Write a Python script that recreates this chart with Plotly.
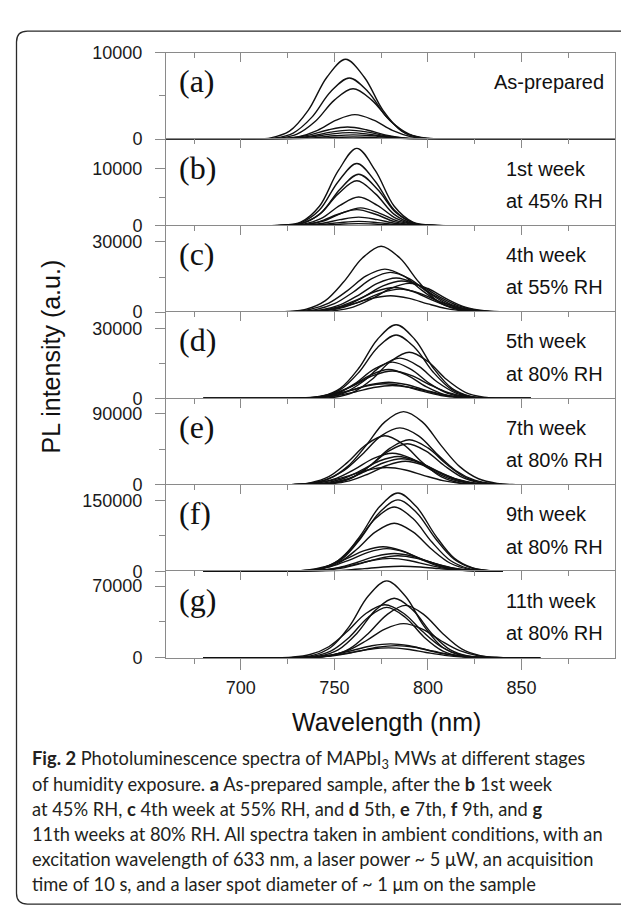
import plotly.graph_objects as go

# ---------------- data (wavelength in nm, PL intensity in a.u.) ----------------
A_WL = [
    [660, 696, 706, 716, 726, 736, 746, 756, 766, 776, 786, 796, 806, 816, 900],
    [660, 698, 708, 718, 728, 738, 748, 758, 768, 778, 788, 798, 808, 818, 900],
    [660, 700, 710, 720, 730, 740, 750, 760, 770, 780, 790, 800, 810, 820, 900],
    [660, 701, 711, 721, 731, 741, 751, 761, 771, 781, 791, 801, 811, 821, 900],
    [660, 697, 707, 717, 727, 737, 747, 757, 767, 777, 787, 797, 807, 817, 900],
    [660, 698, 708, 718, 728, 738, 748, 758, 768, 778, 788, 798, 808, 818, 900],
    [660, 698, 708, 718, 728, 738, 748, 758, 768, 778, 788, 798, 808, 818, 900],
    [660, 700, 710, 720, 730, 740, 750, 760, 770, 780, 790, 800, 810, 820, 900],
    [660, 700, 710, 720, 730, 740, 750, 760, 770, 780, 790, 800, 810, 820, 900],
]
A_PL = [
    [0, 0, 18, 157, 924, 3326, 7161, 9240, 7161, 3326, 924, 157, 18, 0, 0],
    [0, 0, 14, 120, 708, 2549, 5487, 7080, 5487, 2549, 708, 120, 14, 0, 0],
    [0, 0, 12, 99, 583, 2099, 4518, 5830, 4518, 2099, 583, 99, 12, 0, 0],
    [0, 0, 6, 48, 284, 1022, 2201, 2840, 2201, 1022, 284, 48, 6, 0, 0],
    [0, 0, 3, 24, 140, 504, 1085, 1400, 1085, 504, 140, 24, 3, 0, 0],
    [0, 0, 2, 18, 105, 378, 814, 1050, 814, 378, 105, 18, 2, 0, 0],
    [0, 0, 2, 13, 76, 274, 589, 760, 589, 274, 76, 13, 2, 0, 0],
    [0, 0, 1, 9, 50, 180, 388, 500, 388, 180, 50, 9, 1, 0, 0],
    [0, 0, 1, 4, 25, 90, 194, 250, 194, 90, 25, 4, 1, 0, 0],
]

B_WL = [
    [660, 702, 712, 722, 732, 742, 752, 762, 772, 782, 792, 802, 812, 822, 850],
    [660, 702, 712, 722, 732, 742, 752, 762, 772, 782, 792, 802, 812, 822, 850],
    [660, 703, 713, 723, 733, 743, 753, 763, 773, 783, 793, 803, 813, 823, 850],
    [660, 702, 712, 722, 732, 742, 752, 762, 772, 782, 792, 802, 812, 822, 850],
    [660, 703, 713, 723, 733, 743, 753, 763, 773, 783, 793, 803, 813, 823, 850],
    [660, 704, 714, 724, 734, 744, 754, 764, 774, 784, 794, 804, 814, 824, 850],
    [660, 702, 712, 722, 732, 742, 752, 762, 772, 782, 792, 802, 812, 822, 850],
    [660, 703, 713, 723, 733, 743, 753, 763, 773, 783, 793, 803, 813, 823, 850],
    [660, 703, 713, 723, 733, 743, 753, 763, 773, 783, 793, 803, 813, 823, 850],
    [660, 703, 713, 723, 733, 743, 753, 763, 773, 783, 793, 803, 813, 823, 850],
]
B_PL = [
    [0, 0, 0, 54, 594, 3375, 9545, 13500, 9545, 3375, 594, 54, 0, 0, 0],
    [0, 0, 0, 43, 477, 2713, 7671, 10850, 7671, 2713, 477, 43, 0, 0, 0],
    [0, 0, 0, 36, 395, 2245, 6349, 8980, 6349, 2245, 395, 36, 0, 0, 0],
    [0, 0, 0, 31, 345, 1960, 5543, 7840, 5543, 1960, 345, 31, 0, 0, 0],
    [0, 0, 0, 20, 220, 1250, 3535, 5000, 3535, 1250, 220, 20, 0, 0, 0],
    [0, 0, 0, 12, 136, 775, 2192, 3100, 2192, 775, 136, 12, 0, 0, 0],
    [0, 0, 0, 11, 123, 700, 1980, 2800, 1980, 700, 123, 11, 0, 0, 0],
    [0, 0, 0, 6, 65, 370, 1046, 1480, 1046, 370, 65, 6, 0, 0, 0],
    [0, 0, 0, 3, 33, 188, 530, 750, 530, 188, 33, 3, 0, 0, 0],
    [0, 0, 0, 1, 15, 88, 247, 350, 247, 88, 15, 1, 0, 0, 0],
]

C_WL = [
    [680, 715, 725, 735, 745, 755, 765, 775, 785, 795, 805, 815, 825, 835, 860],
    [680, 717, 727, 737, 747, 757, 767, 777, 787, 797, 807, 817, 827, 837, 860],
    [680, 720, 730, 740, 750, 760, 770, 780, 790, 800, 810, 820, 830, 840, 860],
    [680, 723, 733, 743, 753, 763, 773, 783, 793, 803, 813, 823, 833, 843, 860],
    [680, 726, 736, 746, 756, 766, 776, 786, 796, 806, 816, 826, 836, 846, 860],
    [680, 730, 740, 750, 760, 770, 780, 790, 800, 810, 820, 830, 840, 850, 860],
    [680, 722, 732, 742, 752, 762, 772, 782, 792, 802, 812, 822, 832, 842, 860],
    [680, 725, 735, 745, 755, 765, 775, 785, 795, 805, 815, 825, 835, 845, 860],
    [680, 720, 730, 740, 750, 760, 770, 780, 790, 800, 810, 820, 830, 840, 860],
]
C_PL = [
    [0, 28, 226, 1241, 4794, 12972, 23124, 28200, 23124, 12972, 4794, 1241, 226, 28, 0],
    [0, 37, 239, 1159, 3864, 9200, 15456, 18400, 15456, 9200, 3864, 1159, 239, 37, 0],
    [0, 34, 221, 1071, 3570, 8500, 14280, 17000, 14280, 8500, 3570, 1071, 221, 34, 0],
    [0, 29, 190, 920, 3066, 7300, 12264, 14600, 12264, 7300, 3066, 920, 190, 29, 0],
    [0, 27, 173, 838, 2793, 6650, 11172, 13300, 11172, 6650, 2793, 838, 173, 27, 0],
    [0, 12, 98, 541, 2091, 5658, 10086, 12300, 10086, 5658, 2091, 541, 98, 12, 0],
    [0, 21, 137, 662, 2205, 5250, 8820, 10500, 8820, 5250, 2205, 662, 137, 21, 0],
    [0, 20, 127, 617, 2058, 4900, 8232, 9800, 8232, 4900, 2058, 617, 127, 20, 0],
    [0, 14, 91, 441, 1470, 3500, 5880, 7000, 5880, 3500, 1470, 441, 91, 14, 0],
]

D_WL = [
    [680, 723, 733, 743, 753, 763, 773, 783, 793, 803, 813, 823, 833, 843, 855],
    [680, 723, 733, 743, 753, 763, 773, 783, 793, 803, 813, 823, 833, 843, 855],
    [680, 730, 740, 750, 760, 770, 780, 790, 800, 810, 820, 830, 840, 850, 855],
    [680, 725, 735, 745, 755, 765, 775, 785, 795, 805, 815, 825, 835, 845, 855],
    [680, 721, 731, 741, 751, 761, 771, 781, 791, 801, 811, 821, 831, 841, 855],
    [680, 719, 729, 739, 749, 759, 769, 779, 789, 799, 809, 819, 829, 839, 855],
    [680, 721, 731, 741, 751, 761, 771, 781, 791, 801, 811, 821, 831, 841, 855],
    [680, 719, 729, 739, 749, 759, 769, 779, 789, 799, 809, 819, 829, 839, 855],
    [680, 717, 727, 737, 747, 757, 767, 777, 787, 797, 807, 817, 827, 837, 855],
    [680, 721, 731, 741, 751, 761, 771, 781, 791, 801, 811, 821, 831, 841, 855],
]
D_PL = [
    [0, 0, 126, 916, 4266, 12956, 25280, 31600, 25280, 12956, 4266, 916, 126, 0, 0],
    [0, 0, 109, 789, 3672, 11152, 21760, 27200, 21760, 11152, 3672, 789, 109, 0, 0],
    [0, 0, 79, 574, 2673, 8118, 15840, 19800, 15840, 8118, 2673, 574, 79, 0, 0],
    [0, 0, 69, 502, 2336, 7093, 13840, 17300, 13840, 7093, 2336, 502, 69, 0, 0],
    [0, 0, 62, 452, 2106, 6396, 12480, 15600, 12480, 6396, 2106, 452, 62, 0, 0],
    [0, 0, 50, 360, 1674, 5084, 9920, 12400, 9920, 5084, 1674, 360, 50, 0, 0],
    [0, 24, 153, 743, 2478, 5900, 9912, 11800, 9912, 5900, 2478, 743, 153, 24, 0],
    [0, 14, 91, 441, 1470, 3500, 5880, 7000, 5880, 3500, 1470, 441, 91, 14, 0],
    [0, 13, 82, 397, 1323, 3150, 5292, 6300, 5292, 3150, 1323, 397, 82, 13, 0],
    [0, 11, 73, 353, 1176, 2800, 4704, 5600, 4704, 2800, 1176, 353, 73, 11, 0],
]

E_WL = [
    [680, 727, 737, 747, 757, 767, 777, 787, 797, 807, 817, 827, 837, 847, 860],
    [680, 725, 735, 745, 755, 765, 775, 785, 795, 805, 815, 825, 835, 845, 860],
    [680, 717, 727, 737, 747, 757, 767, 777, 787, 797, 807, 817, 827, 837, 860],
    [680, 730, 740, 750, 760, 770, 780, 790, 800, 810, 820, 830, 840, 850, 860],
    [680, 729, 739, 749, 759, 769, 779, 789, 799, 809, 819, 829, 839, 849, 860],
    [680, 721, 731, 741, 751, 761, 771, 781, 791, 801, 811, 821, 831, 841, 860],
    [680, 724, 734, 744, 754, 764, 774, 784, 794, 804, 814, 824, 834, 844, 860],
    [680, 726, 736, 746, 756, 766, 776, 786, 796, 806, 816, 826, 836, 846, 860],
    [680, 728, 738, 748, 758, 768, 778, 788, 798, 808, 818, 828, 838, 848, 860],
    [680, 718, 728, 738, 748, 758, 768, 778, 788, 798, 808, 818, 828, 838, 860],
]
E_PL = [
    [0, 370, 1943, 7863, 23125, 49950, 79550, 92500, 79550, 49950, 23125, 7863, 1943, 370, 0],
    [0, 288, 1512, 6120, 18000, 38880, 61920, 72000, 61920, 38880, 18000, 6120, 1512, 288, 0],
    [0, 62, 496, 2728, 10540, 28520, 50840, 62000, 50840, 28520, 10540, 2728, 496, 62, 0],
    [0, 57, 456, 2508, 9690, 26220, 46740, 57000, 46740, 26220, 9690, 2508, 456, 57, 0],
    [0, 52, 416, 2288, 8840, 23920, 42640, 52000, 42640, 23920, 8840, 2288, 416, 52, 0],
    [0, 80, 520, 2520, 8400, 20000, 33600, 40000, 33600, 20000, 8400, 2520, 520, 80, 0],
    [0, 72, 468, 2268, 7560, 18000, 30240, 36000, 30240, 18000, 7560, 2268, 468, 72, 0],
    [0, 66, 429, 2079, 6930, 16500, 27720, 33000, 27720, 16500, 6930, 2079, 429, 66, 0],
    [0, 30, 240, 1320, 5100, 13800, 24600, 30000, 24600, 13800, 5100, 1320, 240, 30, 0],
    [0, 88, 462, 1870, 5500, 11880, 18920, 22000, 18920, 11880, 5500, 1870, 462, 88, 0],
]

F_WL = [
    [680, 724, 734, 744, 754, 764, 774, 784, 794, 804, 814, 824, 834, 840],
    [680, 724, 734, 744, 754, 764, 774, 784, 794, 804, 814, 824, 834, 840],
    [680, 722, 732, 742, 752, 762, 772, 782, 792, 802, 812, 822, 832, 840],
    [680, 722, 732, 742, 752, 762, 772, 782, 792, 802, 812, 822, 832, 840],
    [680, 716, 726, 736, 746, 756, 766, 776, 786, 796, 806, 816, 826, 840],
    [680, 718, 728, 738, 748, 758, 768, 778, 788, 798, 808, 818, 828, 840],
    [680, 722, 732, 742, 752, 762, 772, 782, 792, 802, 812, 822, 832, 840],
    [680, 724, 734, 744, 754, 764, 774, 784, 794, 804, 814, 824, 834, 840],
    [680, 720, 730, 740, 750, 760, 770, 780, 790, 800, 810, 820, 830, 840],
    [680, 726, 736, 746, 756, 766, 776, 786, 796, 806, 816, 826, 836, 840],
]
F_PL = [
    [0, 166, 1326, 7291, 28169, 76222, 135874, 165700, 135874, 76222, 28169, 7291, 1326, 0],
    [0, 151, 1210, 6653, 25704, 69552, 123984, 151200, 123984, 69552, 25704, 6653, 1210, 0],
    [0, 136, 1090, 5993, 23154, 62652, 111684, 136200, 111684, 62652, 23154, 5993, 1090, 0],
    [0, 102, 814, 4475, 17289, 46782, 83394, 101700, 83394, 46782, 17289, 4475, 814, 0],
    [0, 104, 679, 3289, 10962, 26100, 43848, 52200, 43848, 26100, 10962, 3289, 679, 0],
    [0, 96, 625, 3030, 10101, 24050, 40404, 48100, 40404, 24050, 10101, 3030, 625, 0],
    [0, 76, 491, 2381, 7938, 18900, 31752, 37800, 31752, 18900, 7938, 2381, 491, 0],
    [0, 66, 429, 2079, 6930, 16500, 27720, 33000, 27720, 16500, 6930, 2079, 429, 0],
    [0, 55, 358, 1733, 5775, 13750, 23100, 27500, 23100, 13750, 5775, 1733, 358, 0],
    [0, 44, 229, 927, 2725, 5886, 9374, 10900, 9374, 5886, 2725, 927, 229, 0],
]

G_WL = [
    [680, 718, 728, 738, 748, 758, 768, 778, 788, 798, 808, 818, 828, 838, 860],
    [680, 722, 732, 742, 752, 762, 772, 782, 792, 802, 812, 822, 832, 842, 860],
    [680, 717, 727, 737, 747, 757, 767, 777, 787, 797, 807, 817, 827, 837, 860],
    [680, 728, 738, 748, 758, 768, 778, 788, 798, 808, 818, 828, 838, 848, 860],
    [680, 718, 728, 738, 748, 758, 768, 778, 788, 798, 808, 818, 828, 838, 860],
    [680, 727, 737, 747, 757, 767, 777, 787, 797, 807, 817, 827, 837, 847, 860],
    [680, 720, 730, 740, 750, 760, 770, 780, 790, 800, 810, 820, 830, 840, 860],
    [680, 723, 733, 743, 753, 763, 773, 783, 793, 803, 813, 823, 833, 843, 860],
    [680, 719, 729, 739, 749, 759, 769, 779, 789, 799, 809, 819, 829, 839, 860],
]
G_PL = [
    [0, 0, 300, 2178, 10139, 30791, 60080, 75100, 60080, 30791, 10139, 2178, 300, 0, 0],
    [0, 0, 233, 1688, 7857, 23862, 46560, 58200, 46560, 23862, 7857, 1688, 233, 0, 0],
    [0, 104, 673, 3263, 10878, 25900, 43512, 51800, 43512, 25900, 10878, 3263, 673, 104, 0],
    [0, 51, 410, 2253, 8704, 23552, 41984, 51200, 41984, 23552, 8704, 2253, 410, 51, 0],
    [0, 0, 197, 1430, 6656, 20213, 39440, 49300, 39440, 20213, 6656, 1430, 197, 0, 0],
    [0, 67, 434, 2104, 7014, 16700, 28056, 33400, 28056, 16700, 7014, 2104, 434, 67, 0],
    [0, 55, 288, 1165, 3425, 7398, 11782, 13700, 11782, 7398, 3425, 1165, 288, 55, 0],
    [0, 48, 252, 1020, 3000, 6480, 10320, 12000, 10320, 6480, 3000, 1020, 252, 48, 0],
    [0, 39, 206, 833, 2450, 5292, 8428, 9800, 8428, 5292, 2450, 833, 206, 39, 0],
]

PANEL_TAGS = ["(a)", "(b)", "(c)", "(d)", "(e)", "(f)", "(g)"]
PANEL_NOTES = [
    ["As-prepared"],
    ["1st week", "at 45% RH"],
    ["4th week", "at 55% RH"],
    ["5th week", "at 80% RH"],
    ["7th week", "at 80% RH"],
    ["9th week", "at 80% RH"],
    ["11th week", "at 80% RH"],
]
Y_TICK_TOP = [10000, 10000, 30000, 30000, 90000, 150000, 70000]
Y_TICK_MID = [5000, 5000, 15000, 15000, 45000, 75000, 35000]
Y_RANGE_TOP = [10000, 15100, 37000, 37000, 109000, 182600, 84300]
X_RANGE = [660, 900]
X_TICKS = [700, 750, 800, 850]
X_MINOR_TICKS = [675, 725, 775, 825, 875]
X_TITLE = "Wavelength (nm)"
Y_TITLE = "PL intensity (a.u.)"
CAPTION_LINES = [
    "<b>Fig. 2</b> Photoluminescence spectra of MAPbI<sub>3</sub> MWs at different stages",
    "of humidity exposure. <b>a</b> As-prepared sample, after the <b>b</b> 1st week",
    "at 45% RH, <b>c</b> 4th week at 55% RH, and <b>d</b> 5th, <b>e</b> 7th, <b>f</b> 9th, and <b>g</b>",
    "11th weeks at 80% RH. All spectra taken in ambient conditions, with an",
    "excitation wavelength of 633 nm, a laser power ~ 5 \u03bcW, an acquisition",
    "time of 10 s, and a laser spot diameter of ~ 1 \u03bcm on the sample",
]

PANELS = [(A_WL, A_PL), (B_WL, B_PL), (C_WL, C_PL), (D_WL, D_PL),
          (E_WL, E_PL), (F_WL, F_PL), (G_WL, G_PL)]

# ---------------- layout helpers (pixels -> paper) ----------------
W, H = 629, 908
PX0, PX1 = 158, 607
PTOP, PH = 35.5, 88.4
AX = "#8a8a8a"
SANS = "Liberation Sans, Arial, sans-serif"
SERIF = "Liberation Serif, Times New Roman, serif"


def fx(px):
    return px / W


def fy(py):
    return 1 - py / H


fig = go.Figure()
layout = {}

for i, (wls, pls) in enumerate(PANELS):
    n = i + 1
    xs = "x" if n == 1 else f"x{n}"
    ys = "y" if n == 1 else f"y{n}"
    for wl, pl in zip(wls, pls):
        fig.add_trace(go.Scatter(
            x=wl, y=pl, mode="lines", xaxis=xs, yaxis=ys,
            line=dict(color="#111111", width=1.4, shape="spline", smoothing=1.0),
            hoverinfo="skip", showlegend=False))
    top = PTOP + i * PH
    bot = top + PH
    xk = "xaxis" if n == 1 else f"xaxis{n}"
    yk = "yaxis" if n == 1 else f"yaxis{n}"
    layout[xk] = dict(
        domain=[fx(PX0), fx(PX1)], range=X_RANGE, anchor=ys, side="top",
        showline=True, linecolor=AX, linewidth=1, mirror=False,
        ticks="inside", ticklen=9, tickwidth=1, tickcolor=AX,
        tickmode="array", tickvals=X_TICKS, showticklabels=False,
        minor=dict(tickmode="array", tickvals=X_MINOR_TICKS, ticks="inside",
                   ticklen=5, tickwidth=1, tickcolor=AX, showgrid=False),
        showgrid=False, zeroline=False, fixedrange=True)
    layout[yk] = dict(
        domain=[fy(bot), fy(top)], range=[0, Y_RANGE_TOP[i]], anchor=xs,
        showline=True, linecolor=AX, linewidth=1, mirror=True,
        ticks="outside", ticklen=10, tickwidth=1, tickcolor=AX,
        tickmode="array", tickvals=[0, Y_TICK_TOP[i]],
        ticktext=["0", str(Y_TICK_TOP[i])],
        tickfont=dict(family=SANS, size=18, color="#1a1a1a"),
        ticklabelstandoff=9,
        minor=dict(tickmode="array", tickvals=[Y_TICK_MID[i]], ticks="outside",
                   ticklen=6, tickwidth=1, tickcolor=AX, showgrid=False),
        showgrid=False, zeroline=False, fixedrange=True)

# bottom labelled wavelength axis, overlaying the last panel
fig.add_trace(go.Scatter(x=[X_RANGE[0]], y=[0], xaxis="x8", yaxis="y7",
                         mode="lines", line=dict(width=0),
                         showlegend=False, hoverinfo="skip"))
layout["xaxis8"] = dict(
    domain=[fx(PX0), fx(PX1)], range=X_RANGE, anchor="y7", overlaying="x7",
    side="bottom", showline=True, linecolor=AX, linewidth=1,
    ticks="outside", ticklen=11, tickwidth=1, tickcolor=AX,
    tickmode="array", tickvals=X_TICKS, ticktext=[str(v) for v in X_TICKS],
    tickfont=dict(family=SANS, size=18, color="#1a1a1a"),
    ticklabelstandoff=3,
    minor=dict(tickmode="array", tickvals=X_MINOR_TICKS, ticks="outside",
               ticklen=5, tickwidth=1, tickcolor=AX, showgrid=False),
    showgrid=False, zeroline=False, fixedrange=True)

ann = []
for i in range(7):
    top = PTOP + i * PH
    ann.append(dict(text=PANEL_TAGS[i], x=fx(169), y=fy(top + 29),
                    xref="paper", yref="paper", xanchor="left", yanchor="middle",
                    showarrow=False, font=dict(family=SERIF, size=32, color="#111111")))
    notes = PANEL_NOTES[i]
    if len(notes) == 1:
        ann.append(dict(text=notes[0], x=fx(598), y=fy(top + 29.5),
                        xref="paper", yref="paper", xanchor="right", yanchor="middle",
                        showarrow=False, font=dict(family=SANS, size=20, color="#111111")))
    else:
        for k, line in enumerate(notes):
            ann.append(dict(text=line, x=fx(496), y=fy(top + 30 + 33 * k),
                            xref="paper", yref="paper", xanchor="left", yanchor="middle",
                            showarrow=False, font=dict(family=SANS, size=20, color="#111111")))

ann.append(dict(text=Y_TITLE, x=fx(43), y=fy(346), textangle=-90,
                xref="paper", yref="paper", xanchor="center", yanchor="middle",
                showarrow=False, font=dict(family=SANS, size=25, color="#111111")))
ann.append(dict(text=X_TITLE, x=fx(378), y=fy(720),
                xref="paper", yref="paper", xanchor="center", yanchor="middle",
                showarrow=False, font=dict(family=SANS, size=25, color="#111111")))

CAP_Y0, CAP_DY = 758, 25.5
for k, line in enumerate(CAPTION_LINES):
    ann.append(dict(text=line, x=fx(22), y=fy(CAP_Y0 + CAP_DY * k),
                    xref="paper", yref="paper", xanchor="left", yanchor="middle",
                    showarrow=False, font=dict(family="Lato, Open Sans, sans-serif",
                                               size=18.3, color="#231f20")))

# rounded frame around figure + caption
bx0, bx1, by0, by1, r = 8.5, 624.5, 13.5, 906, 11
rx, ry = r / W, r / H
L, R, T, B = fx(bx0), fx(bx1), fy(by0), fy(by1)
path = (f"M {L + rx},{T} L {R - rx},{T} Q {R},{T} {R},{T - ry} "
        f"L {R},{B + ry} Q {R},{B} {R - rx},{B} L {L + rx},{B} "
        f"Q {L},{B} {L},{B + ry} L {L},{T - ry} Q {L},{T} {L + rx},{T} Z")

fig.update_layout(
    width=W, height=H, margin=dict(l=0, r=0, t=0, b=0),
    paper_bgcolor="white", plot_bgcolor="white",
    showlegend=False, annotations=ann,
    shapes=[dict(type="path", path=path, xref="paper", yref="paper",
                 line=dict(color="#2a2a2a", width=1.3), layer="above")],
    **layout)

fig.write_html("out.html")
